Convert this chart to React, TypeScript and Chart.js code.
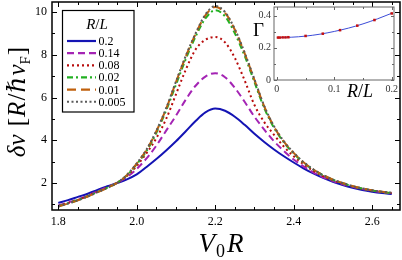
import React, { useEffect, useRef } from "react";
import { Chart, registerables } from "chart.js";
Chart.register(...registerables);

// ---------- data ----------
const vR = [1.8, 1.825, 1.85, 1.875, 1.9, 1.925, 1.95, 1.975, 2.0, 2.025, 2.05, 2.075, 2.1, 2.125, 2.15, 2.175, 2.2, 2.225, 2.25, 2.275, 2.3, 2.325, 2.35, 2.375, 2.4, 2.425, 2.45, 2.475, 2.5, 2.525, 2.55, 2.575, 2.6, 2.625, 2.65];
const rlLabels = ["0.2", "0.14", "0.08", "0.02", "0.01", "0.005"];
const dnu020 = [1.07, 1.2, 1.35, 1.5, 1.68, 1.85, 2.0, 2.17, 2.4, 2.75, 3.12, 3.52, 3.95, 4.42, 4.9, 5.3, 5.48, 5.38, 5.1, 4.72, 4.3, 3.92, 3.57, 3.25, 2.96, 2.69, 2.45, 2.24, 2.06, 1.91, 1.78, 1.67, 1.59, 1.53, 1.49];
const dnu014 = [0.95, 1.09, 1.24, 1.41, 1.61, 1.81, 2.01, 2.28, 2.66, 3.15, 3.75, 4.45, 5.15, 5.9, 6.55, 6.98, 7.14, 6.95, 6.45, 5.8, 5.1, 4.5, 3.95, 3.5, 3.1, 2.78, 2.5, 2.27, 2.09, 1.94, 1.82, 1.72, 1.64, 1.57, 1.52];
const dnu008 = [0.92, 1.06, 1.21, 1.39, 1.59, 1.79, 2.01, 2.33, 2.8, 3.4, 4.1, 5.0, 6.15, 7.3, 8.25, 8.7, 8.83, 8.58, 7.85, 6.8, 5.65, 4.85, 4.25, 3.7, 3.25, 2.88, 2.57, 2.32, 2.13, 1.97, 1.84, 1.73, 1.65, 1.58, 1.53];
const dnu002 = [0.91, 1.05, 1.2, 1.38, 1.58, 1.78, 2.01, 2.36, 2.88, 3.5, 4.35, 5.4, 6.6, 7.8, 8.85, 9.7, 10.08, 9.8, 9.0, 7.95, 6.72, 5.5, 4.58, 3.9, 3.38, 2.95, 2.62, 2.36, 2.15, 1.99, 1.85, 1.74, 1.65, 1.58, 1.53];
const dnu001 = [0.9, 1.04, 1.19, 1.37, 1.57, 1.77, 2.01, 2.37, 2.91, 3.55, 4.42, 5.47, 6.72, 7.92, 8.97, 9.84, 10.23, 9.96, 9.17, 8.07, 6.82, 5.58, 4.63, 3.94, 3.41, 2.97, 2.63, 2.37, 2.16, 2.0, 1.86, 1.75, 1.66, 1.59, 1.54];
const dnu0005 = [0.9, 1.04, 1.19, 1.37, 1.57, 1.77, 2.01, 2.38, 2.92, 3.57, 4.45, 5.5, 6.75, 7.95, 9.0, 9.88, 10.28, 10.0, 9.2, 8.1, 6.85, 5.6, 4.65, 3.95, 3.42, 2.98, 2.64, 2.37, 2.16, 2.0, 1.86, 1.75, 1.66, 1.59, 1.54];

const xTicks = [1.8, 2.0, 2.2, 2.4, 2.6];
const xMinor = [1.85, 1.9, 1.95, 2.05, 2.1, 2.15, 2.25, 2.3, 2.35, 2.45, 2.5, 2.55, 2.65];
const yTicks = [2, 4, 6, 8, 10];
const yMinor = [1, 3, 5, 7, 9];

// inset
const gammaRL = [0.002, 0.005, 0.01, 0.015, 0.02, 0.05, 0.08, 0.11, 0.14, 0.17, 0.2];
const gammaVal = [0.264, 0.264, 0.265, 0.265, 0.266, 0.274, 0.288, 0.31, 0.338, 0.373, 0.414];
const fitRL = [0, 0.025, 0.05, 0.075, 0.1, 0.125, 0.15, 0.175, 0.2];
const fitVal = [0.264, 0.266, 0.273, 0.285, 0.302, 0.323, 0.349, 0.38, 0.415];
const insetXTicks = [0, 0.1, 0.2];
const insetXMinor = [0.05, 0.15];
const insetYTicks = [0, 0.2, 0.4];
const insetYMinor = [0.1, 0.3];

// ---------- styles ----------
const SERIF = "'Liberation Serif', 'DejaVu Serif', serif";
const colors = ["#1414b4", "#a424b4", "#b80c0c", "#22b022", "#c0600c", "#5a5a5a"];
const dashes = [[], [7, 4], [2, 3], [6, 3, 2, 3], [9, 5], [2, 2.5]];
const series = [dnu020, dnu014, dnu008, dnu002, dnu001, dnu0005];

type Run = { text: string; font: string; dy?: number; sp?: number };
function drawRuns(ctx: CanvasRenderingContext2D, runs: Run[], x: number, y: number, center: boolean) {
  const ws = runs.map((r) => {
    ctx.font = r.font;
    return ctx.measureText(r.text).width + (r.sp || 0);
  });
  const total = ws.reduce((a, b) => a + b, 0);
  let cx = center ? x - total / 2 : x;
  runs.forEach((r, i) => {
    ctx.font = r.font;
    ctx.fillText(r.text, cx, y + (r.dy || 0));
    cx += ws[i];
  });
}

function makeFrame(o: { color: string; width: number; maj: number; min: number; xMaj: number[]; xMin: number[]; yMaj: number[]; yMin: number[]; fill?: boolean }) {
  return {
    id: "frame",
    beforeDatasetsDraw(chart: any) {
      if (!o.fill) return;
      const { ctx, chartArea: a } = chart;
      ctx.save();
      ctx.fillStyle = "#fff";
      ctx.fillRect(a.left, a.top, a.right - a.left, a.bottom - a.top);
      ctx.restore();
    },
    afterDatasetsDraw(chart: any) {
      const { ctx, chartArea: a, scales } = chart;
      const sx = scales.x, sy = scales.y;
      ctx.save();
      ctx.strokeStyle = o.color;
      ctx.lineWidth = 1;
      ctx.beginPath();
      const vt = (vals: number[], len: number) => {
        vals.forEach((v) => {
          const p = Math.round(sx.getPixelForValue(v)) + 0.5;
          ctx.moveTo(p, a.bottom); ctx.lineTo(p, a.bottom - len);
          ctx.moveTo(p, a.top); ctx.lineTo(p, a.top + len);
        });
      };
      const ht = (vals: number[], len: number) => {
        vals.forEach((v) => {
          const p = Math.round(sy.getPixelForValue(v)) + 0.5;
          ctx.moveTo(a.left, p); ctx.lineTo(a.left + len, p);
          ctx.moveTo(a.right, p); ctx.lineTo(a.right - len, p);
        });
      };
      vt(o.xMaj, o.maj); vt(o.xMin, o.min); ht(o.yMaj, o.maj); ht(o.yMin, o.min);
      ctx.stroke();
      ctx.lineWidth = o.width;
      ctx.strokeRect(a.left, a.top, a.right - a.left, a.bottom - a.top);
      ctx.restore();
    },
  };
}

const mainDecor = {
  id: "mainDecor",
  afterDraw(chart: any) {
    const ctx: CanvasRenderingContext2D = chart.ctx;
    ctx.save();
    ctx.fillStyle = "#000";
    ctx.textBaseline = "alphabetic";
    // x title
    const fs = 27;
    drawRuns(ctx, [
      { text: "V", font: `italic ${fs}px ${SERIF}`, sp: 1 },
      { text: "0", font: `${Math.round(fs * 0.68)}px ${SERIF}`, dy: 5, sp: 2 },
      { text: "R", font: `italic ${fs}px ${SERIF}` },
    ], 221, 252, true);
    // y title
    ctx.translate(25, 102);
    ctx.rotate(-Math.PI / 2);
    const g = 25;
    drawRuns(ctx, [
      { text: "δν", font: `italic ${g}px ${SERIF}`, sp: 2 },
      { text: " [", font: `${g}px ${SERIF}`, sp: 1 },
      { text: "R", font: `italic ${g}px ${SERIF}`, sp: 1 },
      { text: "/", font: `${g}px ${SERIF}`, sp: 1 },
      { text: "ℏ", font: `italic ${g}px ${SERIF}`, sp: 1 },
      { text: "v", font: `italic ${g}px ${SERIF}` },
      { text: "F", font: `${Math.round(g * 0.6)}px ${SERIF}`, dy: 5, sp: 1 },
      { text: "]", font: `${g}px ${SERIF}` },
    ], 0, 0, true);
    ctx.restore();

    // legend
    ctx.save();
    const bx = 62.5, by = 10.5, bw = 71.5, bh = 101.5;
    ctx.fillStyle = "#fff";
    ctx.fillRect(bx, by, bw, bh);
    ctx.strokeStyle = "#000";
    ctx.lineWidth = 1.2;
    ctx.strokeRect(bx, by, bw, bh);
    ctx.fillStyle = "#000";
    drawRuns(ctx, [
      { text: "R", font: `italic 15px ${SERIF}` },
      { text: "/", font: `15px ${SERIF}` },
      { text: "L", font: `italic 15px ${SERIF}` },
    ], 97, 29, true);
    chart.data.datasets.forEach((ds: any, i: number) => {
      const y = 41 + i * 12.15;
      ctx.beginPath();
      ctx.strokeStyle = ds.borderColor;
      ctx.lineWidth = 2.2;
      ctx.setLineDash(ds.borderDash || []);
      ctx.moveTo(67, y);
      ctx.lineTo(96, y);
      ctx.stroke();
      ctx.setLineDash([]);
      ctx.font = `12px ${SERIF}`;
      ctx.fillStyle = "#000";
      ctx.fillText(ds.label, 98.5, y + 4);
    });
    ctx.restore();
  },
};

const insetDecor = {
  id: "insetDecor",
  afterDraw(chart: any) {
    const ctx: CanvasRenderingContext2D = chart.ctx;
    ctx.save();
    ctx.fillStyle = "#000";
    ctx.font = `19px ${SERIF}`;
    ctx.fillText("Γ", 3, 36);
    drawRuns(ctx, [
      { text: "R", font: `italic 18px ${SERIF}` },
      { text: "/", font: `18px ${SERIF}` },
      { text: "L", font: `italic 18px ${SERIF}` },
    ], 110, 97, true);
    ctx.restore();
  },
};

const noPadX = (h: number) => (s: any) => { s.height = h; s.paddingLeft = 0; s.paddingRight = 0; };
const noPadY = (w: number) => (s: any) => { s.width = w; s.paddingTop = 0; s.paddingBottom = 0; };

export default function App() {
  const mainRef = useRef<HTMLCanvasElement>(null);
  const insetRef = useRef<HTMLCanvasElement>(null);

  useEffect(() => {
    document.body.style.margin = "0";
    const main = new Chart(mainRef.current!, {
      type: "line",
      data: {
        datasets: series.map((s, i) => ({
          label: rlLabels[i],
          data: vR.map((x, j) => ({ x, y: s[j] })),
          borderColor: colors[i],
          borderWidth: 2,
          borderDash: dashes[i],
          pointRadius: 0,
          fill: false,
          cubicInterpolationMode: "monotone" as const,
          order: 5 - i,
        })),
      },
      options: {
        animation: false,
        responsive: false,
        events: [],
        layout: { padding: { top: 2, right: 2, left: 0, bottom: 0 } },
        plugins: { legend: { display: false }, tooltip: { enabled: false } },
        scales: {
          x: {
            type: "linear",
            min: 1.784,
            max: 2.671,
            grid: { display: false, drawTicks: false },
            border: { display: false },
            ticks: {
              font: { family: SERIF, size: 12 },
              color: "#000",
              padding: 5,
              maxRotation: 0,
              autoSkip: false,
              callback: (v: any) => Number(v).toFixed(1),
            },
            afterBuildTicks: (s: any) => { s.ticks = xTicks.map((v) => ({ value: v })); },
            afterFit: noPadX(50),
          },
          y: {
            type: "linear",
            min: 0.737,
            max: 10.468,
            grid: { display: false, drawTicks: false },
            border: { display: false },
            ticks: {
              font: { family: SERIF, size: 12 },
              color: "#000",
              padding: 5,
              autoSkip: false,
              callback: (v: any) => String(v),
            },
            afterBuildTicks: (s: any) => { s.ticks = yTicks.map((v) => ({ value: v })); },
            afterFit: noPadY(52),
          },
        },
      },
      plugins: [
        makeFrame({ color: "#000", width: 1.5, maj: 5, min: 3, xMaj: xTicks, xMin: xMinor, yMaj: yTicks, yMin: yMinor }),
        mainDecor,
      ],
    });

    const inset = new Chart(insetRef.current!, {
      type: "line",
      data: {
        datasets: [
          {
            label: "dots",
            data: gammaRL.map((x, j) => ({ x, y: gammaVal[j] })),
            showLine: false,
            pointStyle: "rect",
            pointRadius: 1.8,
            pointBackgroundColor: "#c41010",
            pointBorderWidth: 0,
            borderColor: "#c41010",
          },
          {
            label: "fit",
            data: fitRL.map((x, j) => ({ x, y: fitVal[j] })),
            borderColor: "#3c4cd8",
            borderWidth: 1,
            pointRadius: 0,
            cubicInterpolationMode: "monotone" as const,
          },
        ],
      },
      options: {
        animation: false,
        responsive: false,
        events: [],
        layout: { padding: { top: 7, right: 8, left: 0, bottom: 0 } },
        plugins: { legend: { display: false }, tooltip: { enabled: false } },
        scales: {
          x: {
            type: "linear",
            min: -0.005,
            max: 0.204,
            grid: { display: false, drawTicks: false },
            border: { display: false },
            ticks: {
              font: { family: SERIF, size: 10 },
              color: "#333",
              padding: 3,
              maxRotation: 0,
              autoSkip: false,
              callback: (v: any) => String(v),
            },
            afterBuildTicks: (s: any) => { s.ticks = insetXTicks.map((v) => ({ value: v })); },
            afterFit: noPadX(20),
          },
          y: {
            type: "linear",
            min: 0,
            max: 0.454,
            grid: { display: false, drawTicks: false },
            border: { display: false },
            ticks: {
              font: { family: SERIF, size: 10 },
              color: "#333",
              padding: 3,
              autoSkip: false,
              callback: (v: any) => String(v),
            },
            afterBuildTicks: (s: any) => { s.ticks = insetYTicks.map((v) => ({ value: v })); },
            afterFit: noPadY(24),
          },
        },
      },
      plugins: [
        makeFrame({ color: "#666", width: 1, maj: 3, min: 2, xMaj: insetXTicks, xMin: insetXMinor, yMaj: insetYTicks, yMin: insetYMinor, fill: true }),
        insetDecor,
      ],
    });

    return () => {
      main.destroy();
      inset.destroy();
    };
  }, []);

  return (
    <div style={{ position: "fixed", left: 0, top: 0, width: 402, height: 260, background: "#fff" }}>
      <canvas ref={mainRef} width={402} height={260} style={{ position: "absolute", left: 0, top: 0, width: 402, height: 260 }} />
      <canvas ref={insetRef} width={152} height={100} style={{ position: "absolute", left: 250, top: 0, width: 152, height: 100 }} />
    </div>
  );
}
